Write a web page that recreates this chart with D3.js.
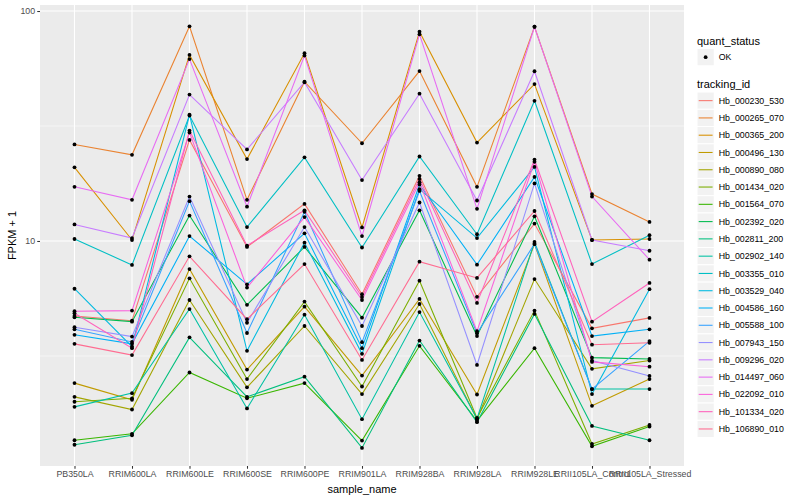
<!DOCTYPE html>
<html>
<head>
<meta charset="utf-8">
<script src="https://cdn.jsdelivr.net/npm/d3@7"></script>
<style>
  body { margin: 0; background: #fff; }
  text { font-family: "Liberation Sans", Arial, sans-serif; }
</style>
</head>
<body>
<svg width="800" height="500"></svg>
<script>
// samples on the x axis
const samples = ["PB350LA", "RRIM600LA", "RRIM600LE", "RRIM600SE", "RRIM600PE", "RRIM901LA",
  "RRIM928BA", "RRIM928LA", "RRIM928LE", "RRII105LA_Control", "RRII105LA_Stressed"]

const trackingIds = ["Hb_000230_530", "Hb_000265_070", "Hb_000365_200", "Hb_000496_130", "Hb_000890_080",
  "Hb_001434_020", "Hb_001564_070", "Hb_002392_020", "Hb_002811_200", "Hb_002902_140",
  "Hb_003355_010", "Hb_003529_040", "Hb_004586_160", "Hb_005588_100", "Hb_007943_150",
  "Hb_009296_020", "Hb_014497_060", "Hb_022092_010", "Hb_101334_020", "Hb_106890_010"]

// FPKM + 1, one value per sample
const hb_000230_530 = [4.72, 4.50, 27.5, 9.42, 14.5, 5.87, 19.2, 5.72, 11.9, 4.17, 4.63]
const hb_000265_070 = [26.3, 23.7, 85.8, 15.1, 49.3, 26.6, 54.8, 17.2, 85.4, 16.0, 12.1]
const hb_000365_200 = [20.9, 10.1, 64.4, 22.7, 65.5, 11.45, 81.3, 26.8, 48.1, 10.1, 10.2]
const hb_000496_130 = [2.41, 2.04, 7.55, 2.76, 5.18, 2.60, 5.60, 2.15, 9.70, 1.92, 2.51]
const hb_000890_080 = [2.10, 1.85, 5.54, 2.31, 4.27, 2.16, 5.32, 1.68, 6.83, 2.78, 3.02]
const hb_001434_020 = [2.00, 2.07, 6.88, 2.51, 5.45, 2.33, 6.72, 1.70, 4.98, 1.31, 1.585]
const hb_001564_070 = [1.36, 1.45, 2.68, 2.07, 2.41, 1.355, 3.50, 1.65, 3.42, 1.28, 1.56]
const hb_002392_020 = [4.66, 4.46, 12.9, 5.28, 9.42, 4.64, 13.6, 3.86, 12.8, 3.11, 3.07]
const hb_002811_200 = [1.30, 1.43, 3.81, 2.10, 2.57, 1.26, 3.69, 1.63, 4.82, 1.57, 1.36]
const hb_002902_140 = [1.90, 2.18, 5.06, 1.87, 4.78, 1.68, 4.91, 1.69, 9.90, 2.27, 2.27]
const hb_003355_010 = [10.2, 7.87, 35.1, 11.5, 23.1, 9.37, 23.3, 10.7, 40.7, 7.94, 10.6]
const hb_003529_040 = [6.20, 3.47, 35.4, 3.33, 9.83, 3.23, 16.8, 10.3, 21.0, 2.16, 6.17]
const hb_004586_160 = [3.91, 3.57, 10.5, 6.48, 10.8, 3.42, 17.6, 7.89, 19.0, 3.86, 4.13]
const hb_005588_100 = [4.13, 3.64, 14.9, 3.98, 13.4, 3.63, 16.5, 3.97, 9.70, 2.27, 3.67]
const hb_007943_150 = [4.22, 3.84, 15.6, 4.41, 11.5, 4.27, 14.7, 2.89, 17.8, 3.02, 2.59]
const hb_009296_020 = [11.8, 10.3, 43.3, 25.0, 49.0, 18.4, 43.7, 15.0, 54.7, 10.1, 9.07]
const hb_014497_060 = [17.2, 15.1, 61.8, 14.1, 64.0, 10.5, 79.2, 13.8, 85.4, 15.6, 8.29]
const hb_022092_010 = [4.95, 4.98, 29.6, 6.27, 12.7, 5.54, 18.0, 4.05, 22.1, 2.98, 2.84]
const hb_101334_020 = [4.85, 3.42, 30.2, 9.54, 13.6, 5.71, 18.6, 5.38, 22.6, 4.46, 6.57]
const hb_106890_010 = [3.57, 3.19, 8.58, 4.57, 7.94, 3.04, 8.13, 6.91, 13.5, 3.54, 3.61]

const seriesValues = [hb_000230_530, hb_000265_070, hb_000365_200, hb_000496_130, hb_000890_080,
  hb_001434_020, hb_001564_070, hb_002392_020, hb_002811_200, hb_002902_140,
  hb_003355_010, hb_003529_040, hb_004586_160, hb_005588_100, hb_007943_150,
  hb_009296_020, hb_014497_060, hb_022092_010, hb_101334_020, hb_106890_010]

const quantStatus = ["OK"]

// y axis breaks
const yBreaks = [10, 100]
const yTickLabels = ["10", "100"]
const yMinorBreaks = [3.162, 31.62]

const svg = d3.select("svg")

// panel box
const panel = { left: 40, right: 684, top: 5, bottom: 466 }

const x = d3.scalePoint()
  .domain(samples)
  .range([panel.left, panel.right])
  .padding(0.6)

const y = d3.scaleLog()
  .domain([1.051, 106.2])
  .range([panel.bottom, panel.top])

// ggplot default hue palette
const color = d3.scaleOrdinal()
  .domain(trackingIds)
  .range(["#F8766D", "#EA8331", "#D89000", "#C09B00", "#A3A500", "#7CAE00", "#39B600",
    "#00BB4E", "#00BF7D", "#00C1A3", "#00BFC4", "#00BAE0", "#00B0F6", "#35A2FF",
    "#9590FF", "#C77CFF", "#E76BF3", "#FA62DB", "#FF62BC", "#FF6C91"])

// grey background
svg.append("rect")
  .attr("x", panel.left)
  .attr("y", panel.top)
  .attr("width", panel.right - panel.left)
  .attr("height", panel.bottom - panel.top)
  .attr("fill", "#EBEBEB")

const grid = svg.append("g")

grid.selectAll("line.minor")
  .data(yMinorBreaks)
  .join("line")
  .attr("class", "minor")
  .attr("x1", panel.left).attr("x2", panel.right)
  .attr("y1", d => y(d)).attr("y2", d => y(d))
  .attr("stroke", "#fff")
  .attr("stroke-width", 0.55)

grid.selectAll("line.ymajor")
  .data(yBreaks)
  .join("line")
  .attr("class", "ymajor")
  .attr("x1", panel.left).attr("x2", panel.right)
  .attr("y1", d => y(d)).attr("y2", d => y(d))
  .attr("stroke", "#fff")
  .attr("stroke-width", 1.1)

grid.selectAll("line.xmajor")
  .data(samples)
  .join("line")
  .attr("class", "xmajor")
  .attr("x1", d => x(d)).attr("x2", d => x(d))
  .attr("y1", panel.top).attr("y2", panel.bottom)
  .attr("stroke", "#fff")
  .attr("stroke-width", 1.1)

// one line per tracking_id
const rows = trackingIds.map((id, i) => ({
  id: id,
  values: samples.map((s, j) => ({ sample: s, value: seriesValues[i][j] }))
}))

const line = d3.line()
  .x(d => x(d.sample))
  .y(d => y(d.value))

svg.append("g")
  .selectAll("path")
  .data(rows)
  .join("path")
  .attr("d", d => line(d.values))
  .attr("fill", "none")
  .attr("stroke", d => color(d.id))
  .attr("stroke-width", 1.07)

// points on top
svg.append("g")
  .selectAll("circle")
  .data(rows.flatMap(r => r.values))
  .join("circle")
  .attr("cx", d => x(d.sample))
  .attr("cy", d => y(d.value))
  .attr("r", 1.9)
  .attr("fill", "#000")

// axes
const xAxis = svg.append("g")
  .attr("transform", "translate(0," + panel.bottom + ")")
  .call(d3.axisBottom(x).tickSize(2.75).tickPadding(2.2))

const yAxis = svg.append("g")
  .attr("transform", "translate(" + panel.left + ",0)")
  .call(d3.axisLeft(y).tickValues(yBreaks).tickFormat((d, i) => yTickLabels[i]).tickSize(2.75).tickPadding(2.2))

svg.selectAll(".domain").remove()
svg.selectAll(".tick line").attr("stroke", "#333333").attr("stroke-width", 1.07)
svg.selectAll(".tick text")
  .attr("fill", "#4D4D4D")
  .style("font-size", "8.8px")
  .style("font-family", "'Liberation Sans', Arial, sans-serif")

// axis titles
svg.append("text")
  .text("sample_name")
  .attr("x", (panel.left + panel.right) / 2)
  .attr("y", 493)
  .attr("text-anchor", "middle")
  .style("font-size", "11px")

svg.append("text")
  .text("FPKM + 1")
  .attr("transform", "translate(16," + (panel.top + panel.bottom) / 2 + ") rotate(-90)")
  .attr("text-anchor", "middle")
  .style("font-size", "11px")

// legends
const legendX = 697
const keySize = 17.28

svg.append("text")
  .text("quant_status")
  .attr("x", legendX)
  .attr("y", 44.5)
  .style("font-size", "11px")

const qKeys = svg.append("g")
  .selectAll("g")
  .data(quantStatus)
  .join("g")
  .attr("transform", (d, i) => "translate(" + legendX + "," + (48.5 + i * keySize) + ")")

qKeys.append("rect")
  .attr("width", keySize).attr("height", keySize)
  .attr("fill", "#F2F2F2").attr("stroke", "#fff")
qKeys.append("circle")
  .attr("cx", keySize / 2).attr("cy", keySize / 2)
  .attr("r", 1.9).attr("fill", "#000")
qKeys.append("text")
  .text(d => d)
  .attr("x", keySize + 4.5).attr("y", keySize / 2 + 3.1)
  .style("font-size", "8.8px")

svg.append("text")
  .text("tracking_id")
  .attr("x", legendX)
  .attr("y", 88)
  .style("font-size", "11px")

const tKeys = svg.append("g")
  .selectAll("g")
  .data(trackingIds)
  .join("g")
  .attr("transform", (d, i) => "translate(" + legendX + "," + (92 + i * keySize) + ")")

tKeys.append("rect")
  .attr("width", keySize).attr("height", keySize)
  .attr("fill", "#F2F2F2").attr("stroke", "#fff")
tKeys.append("line")
  .attr("x1", 1.7).attr("x2", keySize - 1.7)
  .attr("y1", keySize / 2).attr("y2", keySize / 2)
  .attr("stroke", d => color(d))
  .attr("stroke-width", 1.07)
tKeys.append("text")
  .text(d => d)
  .attr("x", keySize + 4.5).attr("y", keySize / 2 + 3.1)
  .style("font-size", "8.8px")
</script>
</body>
</html>
